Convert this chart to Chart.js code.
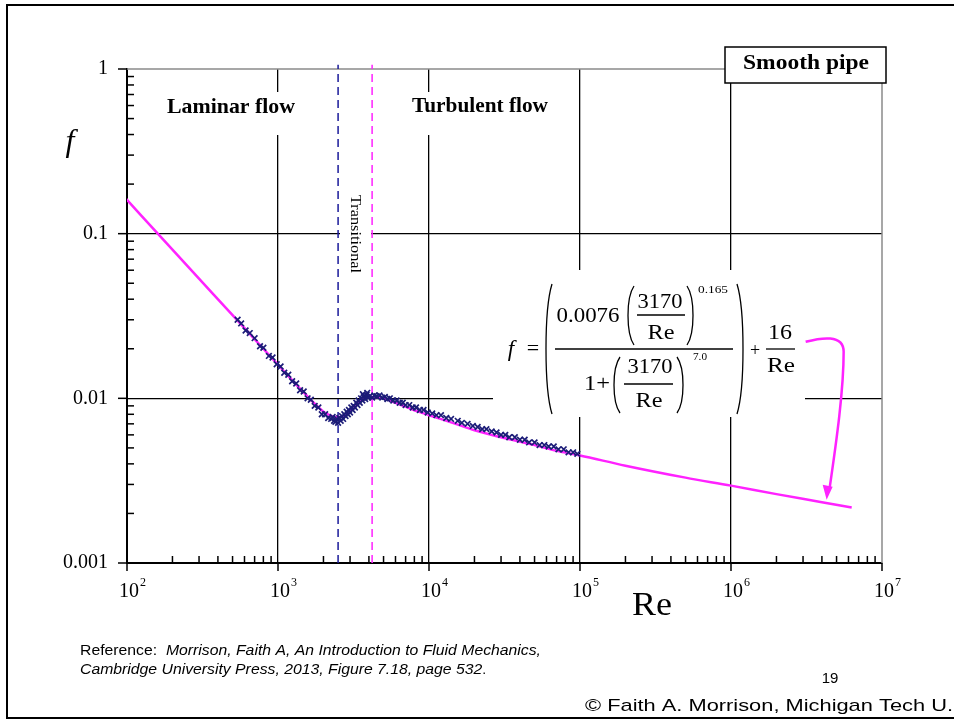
<!DOCTYPE html>
<html>
<head>
<meta charset="utf-8">
<script src="https://cdn.jsdelivr.net/npm/chart.js@4/dist/chart.umd.min.js"></script>
<style>
  html, body { margin: 0; padding: 0; background: #fff; }
  #wrap { width: 954px; height: 723px; position: relative; }
</style>
</head>
<body>
<div id="wrap"><canvas id="chart" width="954" height="723"></canvas></div>
<script>
// axis ticks
const xMajor = [1e2, 1e3, 1e4, 1e5, 1e6, 1e7];
const xTickExp = ["2", "3", "4", "5", "6", "7"];
const yMajor = [0.001, 0.01, 0.1, 1];
const yTickLabels = ["0.001", "0.01", "0.1", "1"];

// magenta correlation curve
const fitRe = [96, 200, 500, 1000, 1500, 2000, 2200, 2400, 2600, 2800, 3000, 3200, 3500, 3800,
  4200, 4600, 5000, 6000, 7000, 8500, 10000, 15000, 20000, 30000, 50000, 70000, 100000,
  200000, 500000, 1000000, 2000000, 4000000, 6300000];
const fitF = [0.167, 0.080, 0.032, 0.016, 0.0107, 0.0083, 0.0079, 0.0077, 0.0077, 0.0080, 0.0084, 0.0089, 0.0096, 0.0100,
  0.0102, 0.0101, 0.0100, 0.0094, 0.0089, 0.0083, 0.0079, 0.0070, 0.0064, 0.0058, 0.0052, 0.0048, 0.0045,
  0.0039, 0.0033, 0.00295, 0.00262, 0.00234, 0.00217];

// experimental points (x markers)
const dataRe = [540, 570, 610, 650, 700, 760, 800, 870, 920, 980,
  1040, 1100, 1170, 1240, 1320, 1400, 1480, 1570, 1650, 1750,
  1850, 1950, 2050, 2150, 2250, 2300, 2350, 2400, 2450, 2500,
  2550, 2600, 2650, 2700, 2750, 2800, 2850, 2900, 2950, 3000,
  3060, 3120, 3170, 3230, 3300, 3360, 3420, 3480, 3550, 3620,
  3650, 3700, 3780, 3860, 3900, 3950, 4050, 4200, 4350, 4500,
  4700, 4900, 5100, 5300, 5500, 5800, 6100, 6400, 6700, 7000,
  7400, 7800, 8200, 8700, 9200, 9800, 10500, 11200, 12000, 13000,
  14000, 15500, 16500, 18000, 19500, 21000, 22500, 24000, 26000, 28000,
  30000, 32000, 34000, 37000, 40000, 43000, 46000, 50000, 54000, 58000,
  62000, 67000, 72000, 78000, 84000, 90000, 96000];
const dataF = [0.0300, 0.0285, 0.0258, 0.0249, 0.0232, 0.0207, 0.0203, 0.0181, 0.0177, 0.0161,
  0.0156, 0.0143, 0.0139, 0.0127, 0.0123, 0.0112, 0.0110, 0.0100, 0.0098, 0.0090,
  0.0088, 0.0080, 0.0080, 0.0076, 0.0075, 0.0077, 0.0073, 0.0072, 0.0075, 0.0071,
  0.0076, 0.0073, 0.0078, 0.0075, 0.0080, 0.0078, 0.0083, 0.0080, 0.0085, 0.0082,
  0.0088, 0.0085, 0.0090, 0.0088, 0.0094, 0.0091, 0.0097, 0.0094, 0.0100, 0.0097,
  0.0106, 0.0103, 0.0099, 0.0105, 0.0108, 0.0101, 0.0103, 0.0101, 0.0104, 0.0103,
  0.0104, 0.0101, 0.0102, 0.0099, 0.0100, 0.0097, 0.0097, 0.0094, 0.0094, 0.0091,
  0.0091, 0.0088, 0.0088, 0.0085, 0.0085, 0.0082, 0.0081, 0.0079, 0.0079, 0.0076,
  0.0075, 0.0073, 0.0071, 0.0070, 0.0068, 0.0067, 0.0065, 0.0065, 0.0063, 0.0062,
  0.0060, 0.0060, 0.0058, 0.0058, 0.0056, 0.0056, 0.0054, 0.0054, 0.0052, 0.0052,
  0.0051, 0.0051, 0.0049, 0.0049, 0.0047, 0.0047, 0.0046];

// regime boundaries (dashed verticals)
const laminarEndRe = 2500;
const turbulentStartRe = 4200;
const vLineF = [0.001, 1.06];

const SERIF = '"Liberation Serif", "Times New Roman", serif';
const SANS = '"Liberation Sans", Arial, sans-serif';

function txt(ctx, s, x, y, font, align, w) {
  ctx.save();
  ctx.font = font;
  ctx.textBaseline = "middle";
  ctx.textAlign = "left";
  const m = ctx.measureText(s).width;
  const sx = w ? w / m : 1;
  const x0 = align === "center" ? x - m * sx / 2 : align === "right" ? x - m * sx : x;
  ctx.translate(x0, y);
  ctx.scale(sx, 1);
  ctx.fillText(s, 0, 0);
  ctx.restore();
}

function seg(ctx, x1, y1, x2, y2) {
  ctx.beginPath(); ctx.moveTo(x1, y1); ctx.lineTo(x2, y2); ctx.stroke();
}

function paren(ctx, x, top, bot, dir) {
  // dir -1 for "(", +1 for ")"
  ctx.beginPath();
  ctx.moveTo(x, top);
  ctx.bezierCurveTo(x + dir * 8, top + (bot - top) * 0.2, x + dir * 8, bot - (bot - top) * 0.2, x, bot);
  ctx.stroke();
}

const decor = {
  id: "decor",
  beforeDatasetsDraw(chart) {
    const { ctx, chartArea: a } = chart;
    ctx.save();
    // light frame on top and right
    ctx.strokeStyle = "#8a8a8a";
    ctx.lineWidth = 1.5;
    ctx.beginPath();
    ctx.moveTo(a.left, a.top); ctx.lineTo(a.right, a.top); ctx.lineTo(a.right, a.bottom);
    ctx.stroke();

    // white masks behind labels
    ctx.fillStyle = "#fff";
    ctx.fillRect(165, 92, 134, 43);
    ctx.fillRect(406, 92, 148, 43);
    ctx.fillRect(340, 186, 31, 94);
    ctx.fillRect(493, 270, 312, 147);

    ctx.fillStyle = "#000";
    txt(ctx, "Laminar flow", 231, 108, "bold 21px " + SERIF, "center", 128);
    txt(ctx, "Turbulent flow", 480, 107, "bold 21px " + SERIF, "center", 136);

    // smooth pipe box
    ctx.fillStyle = "#fff";
    ctx.fillRect(725, 47, 161, 36);
    ctx.strokeStyle = "#000";
    ctx.lineWidth = 1.5;
    ctx.strokeRect(725, 47, 161, 36);
    ctx.fillStyle = "#000";
    txt(ctx, "Smooth pipe", 806, 64, "bold 20px " + SERIF, "center", 126);

    // transitional (rotated)
    ctx.save();
    ctx.translate(355, 234);
    ctx.rotate(Math.PI / 2);
    txt(ctx, "Transitional", 0, 0, "15px " + SERIF, "center", 78);
    ctx.restore();

    // formula
    ctx.strokeStyle = "#000";
    ctx.lineWidth = 1.3;
    txt(ctx, "f", 511, 350, "italic 23px " + SERIF, "center");
    txt(ctx, "=", 533, 349, "22px " + SERIF, "center");
    paren(ctx, 552, 284, 414, -1);
    paren(ctx, 737, 284, 414, 1);
    txt(ctx, "0.0076", 588, 316, "22px " + SERIF, "center", 63);
    paren(ctx, 634, 286, 345, -1);
    paren(ctx, 687, 286, 345, 1);
    txt(ctx, "3170", 660, 302, "22px " + SERIF, "center", 45);
    seg(ctx, 637, 315, 685, 315);
    txt(ctx, "Re", 661, 333, "22px " + SERIF, "center", 27);
    txt(ctx, "0.165", 713, 290, "11px " + SERIF, "center", 30);
    seg(ctx, 555, 349, 733, 349);
    txt(ctx, "1+", 597, 384, "22px " + SERIF, "center", 26);
    paren(ctx, 620, 357, 413, -1);
    paren(ctx, 677, 357, 413, 1);
    txt(ctx, "3170", 650, 367, "22px " + SERIF, "center", 45);
    seg(ctx, 624, 384, 673, 384);
    txt(ctx, "Re", 649, 401, "22px " + SERIF, "center", 27);
    txt(ctx, "7.0", 700, 357, "11px " + SERIF, "center", 14);
    txt(ctx, "+", 755, 351, "18px " + SERIF, "center");
    txt(ctx, "16", 780, 333, "22px " + SERIF, "center", 24);
    seg(ctx, 766, 349, 795, 349);
    txt(ctx, "Re", 781, 366, "22px " + SERIF, "center", 28);
    ctx.restore();
  },
  afterDatasetsDraw(chart) {
    const { ctx, scales: { x, y } } = chart;
    // curved arrow from the formula to the curve
    const tx = x.getPixelForValue(4.3e6), ty = y.getPixelForValue(0.00242);
    ctx.save();
    ctx.strokeStyle = "#ff22ff";
    ctx.fillStyle = "#ff22ff";
    ctx.lineWidth = 2.5;
    ctx.beginPath();
    ctx.moveTo(tx - 21, ty - 158);
    ctx.bezierCurveTo(tx - 6, ty - 162, tx + 17, ty - 166, tx + 17, ty - 148);
    ctx.bezierCurveTo(tx + 17, ty - 110, tx + 10, ty - 60, tx + 3, ty - 12);
    ctx.stroke();
    ctx.beginPath();
    ctx.moveTo(tx, ty);
    ctx.lineTo(tx - 4, ty - 15);
    ctx.lineTo(tx + 6, ty - 13);
    ctx.closePath();
    ctx.fill();
    ctx.restore();
  },
  afterDraw(chart) {
    const { ctx, chartArea: a, scales: { x, y } } = chart;
    ctx.save();
    ctx.strokeStyle = "#000";
    ctx.lineWidth = 1.5;
    yMajor.forEach(v => { const p = y.getPixelForValue(v); seg(ctx, a.left - 9, p, a.left, p); });
    xMajor.forEach(v => { const p = x.getPixelForValue(v); seg(ctx, p, a.bottom, p, a.bottom + 8); });
    for (let d = 0.001; d < 0.5; d *= 10) {
      for (let m = 2; m <= 9; m++) { const p = y.getPixelForValue(d * m); seg(ctx, a.left, p, a.left + 7, p); }
    }
    for (let d = 100; d < 5e6; d *= 10) {
      for (let m = 2; m <= 9; m++) { const p = x.getPixelForValue(d * m); seg(ctx, p, a.bottom - 7, p, a.bottom); }
    }

    ctx.fillStyle = "#000";
    yMajor.forEach((v, i) => {
      txt(ctx, yTickLabels[i], 108, y.getPixelForValue(v), "20px " + SERIF, "right");
    });
    xMajor.forEach((v, i) => {
      const p = x.getPixelForValue(v);
      txt(ctx, "10", p + 2, 592, "20px " + SERIF, "center");
      txt(ctx, xTickExp[i], p + 13, 583, "12px " + SERIF, "left");
    });
    txt(ctx, "f", 70, 143, "italic 32px " + SERIF, "center");
    txt(ctx, "Re", 652, 606, "34px " + SERIF, "center", 40);

    // footer
    ctx.font = "14px " + SANS;
    const r1 = ctx.measureText("Reference:  ").width;
    ctx.font = "italic 14px " + SANS;
    const r2 = ctx.measureText("Morrison, Faith A, An Introduction to Fluid Mechanics,").width;
    const s1 = 461 / (r1 + r2);
    txt(ctx, "Reference:  ", 80, 651, "14px " + SANS, "left", r1 * s1);
    txt(ctx, "Morrison, Faith A, An Introduction to Fluid Mechanics,", 80 + r1 * s1, 651, "italic 14px " + SANS, "left", r2 * s1);
    ctx.font = "italic 14px " + SANS;
    const r3 = ctx.measureText("Cambridge University Press, 2013, Figure 7.18, page 532").width;
    txt(ctx, "Cambridge University Press, 2013, Figure 7.18, page 532", 80, 670, "italic 14px " + SANS, "left", r3 * s1);
    txt(ctx, ".", 80 + r3 * s1, 670, "14px " + SANS, "left");
    txt(ctx, "19", 830, 679, "15px " + SANS, "center");
    txt(ctx, "\u00A9 Faith A. Morrison, Michigan Tech U.", 585, 706, "17px " + SANS, "left", 368);

    // slide border
    ctx.lineWidth = 2;
    ctx.strokeRect(7, 5, 960, 713);
    ctx.restore();
  }
};

const vline = (re, color) => ({
  type: "line",
  data: vLineF.map(f => ({ x: re, y: f })),
  borderColor: color,
  borderWidth: 1.5,
  borderDash: [8, 5],
  pointRadius: 0,
  clip: false
});

new Chart(document.getElementById("chart"), {
  type: "line",
  data: {
    datasets: [
      {
        type: "scatter",
        data: dataRe.map((r, i) => ({ x: r, y: dataF[i] })),
        borderColor: "#1c1c78",
        backgroundColor: "#1c1c78",
        pointStyle: "crossRot",
        pointRadius: 4,
        borderWidth: 1.7,
        showLine: false
      },
      {
        data: fitRe.map((r, i) => ({ x: r, y: fitF[i] })),
        borderColor: "#ff22ff",
        borderWidth: 2.5,
        pointRadius: 0,
        cubicInterpolationMode: "monotone"
      },
      vline(laminarEndRe, "#1a1a9a"),
      vline(turbulentStartRe, "#ff22ff")
    ]
  },
  options: {
    responsive: false,
    animation: false,
    layout: { padding: { left: 127, top: 69, right: 72, bottom: 160 } },
    plugins: { legend: { display: false }, tooltip: { enabled: false } },
    scales: {
      x: {
        type: "logarithmic",
        min: 100,
        max: 1e7,
        afterBuildTicks: s => { s.ticks = xMajor.map(v => ({ value: v })); },
        ticks: { display: false },
        grid: {
          drawTicks: false,
          lineWidth: 1.3,
          color: c => (c.tick && c.tick.value > 100 && c.tick.value < 1e7) ? "#000" : "rgba(0,0,0,0)"
        },
        border: { color: "#000", width: 2 }
      },
      y: {
        type: "logarithmic",
        min: 0.001,
        max: 1,
        afterBuildTicks: s => { s.ticks = yMajor.map(v => ({ value: v })); },
        ticks: { display: false },
        grid: {
          drawTicks: false,
          lineWidth: 1.3,
          color: c => (c.tick && c.tick.value > 0.001 && c.tick.value < 1) ? "#000" : "rgba(0,0,0,0)"
        },
        border: { color: "#000", width: 2 }
      }
    }
  },
  plugins: [decor]
});
</script>
</body>
</html>
